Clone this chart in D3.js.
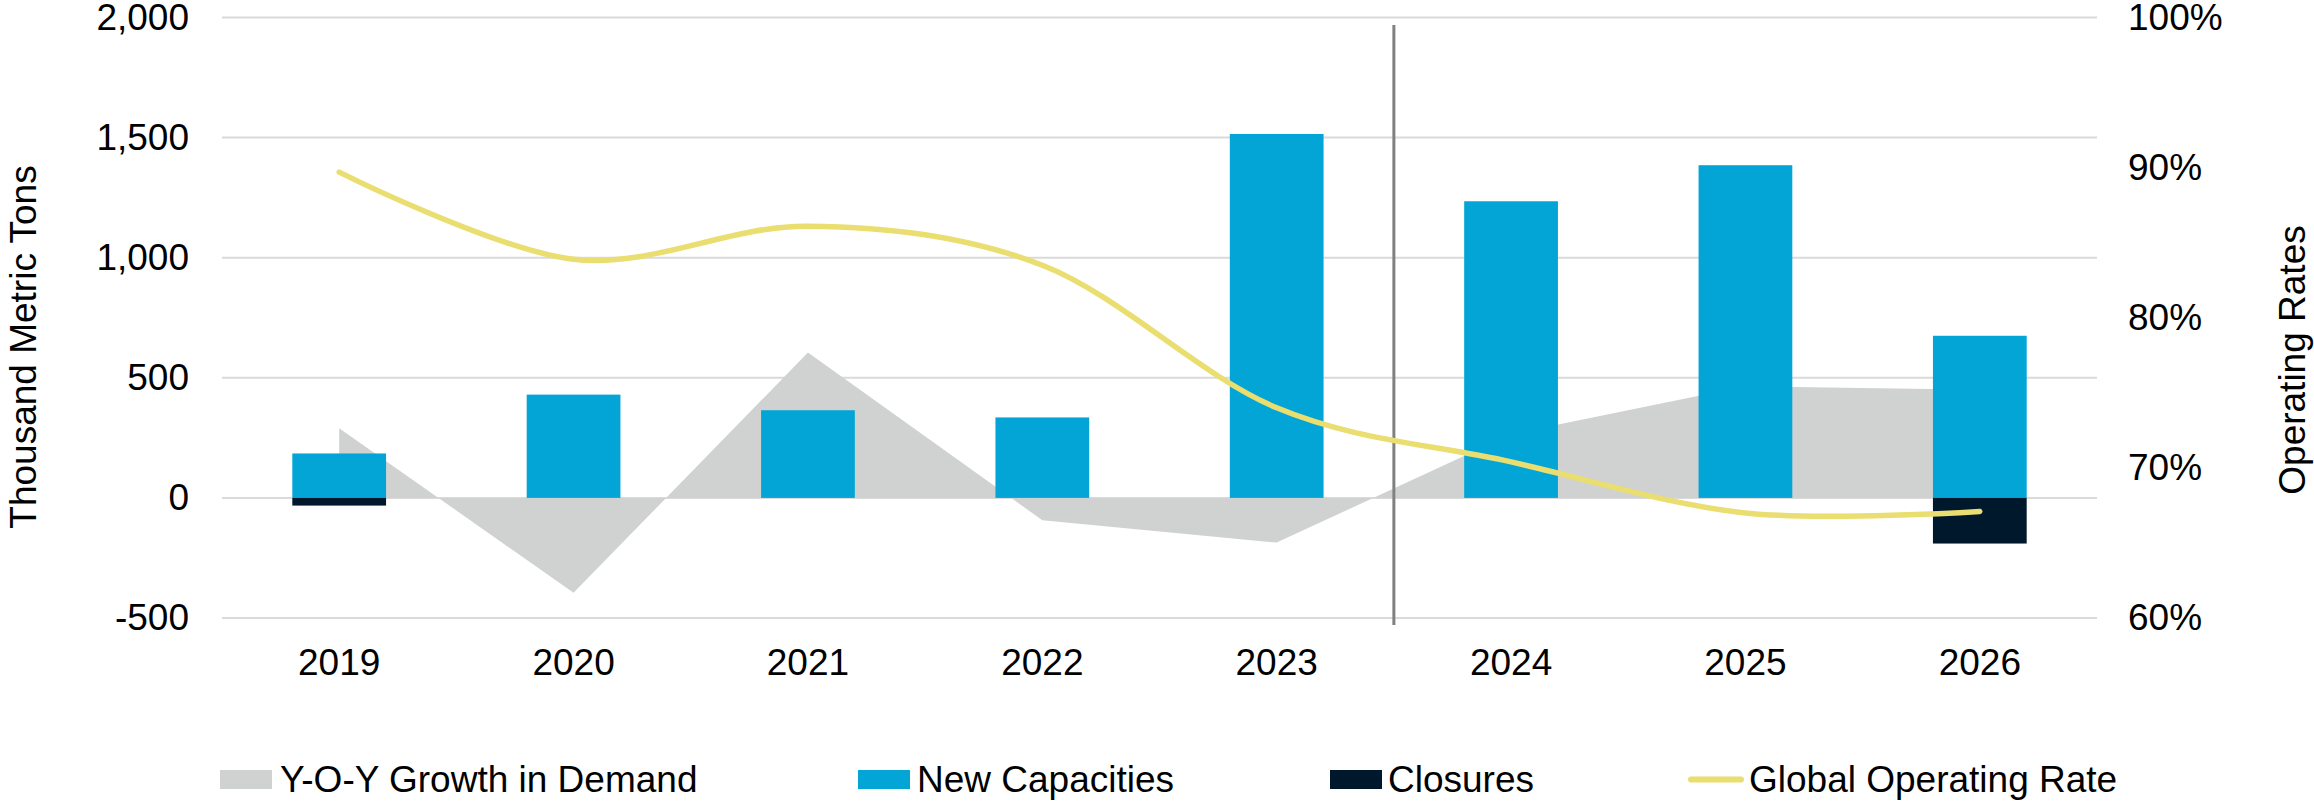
<!DOCTYPE html>
<html>
<head>
<meta charset="utf-8">
<script src="https://cdn.jsdelivr.net/npm/d3@7"></script>
<style>
  body { margin: 0; background: #ffffff; }
  text { font-family: "Liberation Sans", Arial, sans-serif; fill: #000000; }
</style>
</head>
<body>
<svg id="chart" width="2314" height="801"></svg>
<script>
// ---- data ----
const years = ["2019", "2020", "2021", "2022", "2023", "2024", "2025", "2026"];
const demandGrowth = [290, -395, 605, -93, -186, 265, 465, 450];      // thousand metric tons
const newCapacities = [185, 430, 365, 335, 1515, 1235, 1385, 675];    // thousand metric tons
const closures = [-32, 0, 0, 0, 0, 0, 0, -190];                       // thousand metric tons
const operatingRate = [89.7, 83.9, 86.1, 83.5, 74.0, 70.4, 67.0, 67.1]; // percent
const leftTicks = [-500, 0, 500, 1000, 1500, 2000];
const rightTicks = [60, 70, 80, 90, 100];
const legendLabels = ["Y-O-Y Growth in Demand", "New Capacities", "Closures", "Global Operating Rate"];
const forecastStart = "2024";

// ---- styling ----
const colors = {
  demand: "#D0D2D1",
  capacity: "#02A5D5",
  closure: "#00182C",
  rate: "#E9DE6F",
  grid: "#DADADA",
  divider: "#808080"
};
const fontSize = 37;

const svg = d3.select("#chart");
const plot = { left: 222, right: 2097, top: 17.5, bottom: 618 };

const x = d3.scaleBand().domain(years).range([plot.left, plot.right]).padding(0);
const cx = d => x(d) + x.bandwidth() / 2;
const barW = x.bandwidth() * 0.4;

const y = d3.scaleLinear().domain([-500, 2000]).range([plot.bottom, plot.top]);
const yR = d3.scaleLinear().domain([60, 100]).range([plot.bottom, plot.top]);

// thousands separator with a plain hyphen for negatives
const numFmt = d3.formatLocale({ decimal: ".", thousands: ",", grouping: [3], currency: ["", ""], minus: "-" }).format(",");

// gridlines
svg.append("g").selectAll("line").data(leftTicks).join("line")
  .attr("x1", plot.left).attr("x2", plot.right)
  .attr("y1", d => y(d)).attr("y2", d => y(d))
  .attr("stroke", colors.grid).attr("stroke-width", 2);

// demand growth area
const demandData = years.map((yr, i) => ({ yr, v: demandGrowth[i] }));
svg.append("path")
  .datum(demandData)
  .attr("fill", colors.demand)
  .attr("d", d3.area().x(d => cx(d.yr)).y0(y(0)).y1(d => y(d.v)));

// new capacity bars
svg.append("g").selectAll("rect").data(years.map((yr, i) => ({ yr, v: newCapacities[i] }))).join("rect")
  .attr("x", d => cx(d.yr) - barW / 2)
  .attr("width", barW)
  .attr("y", d => y(Math.max(0, d.v)))
  .attr("height", d => Math.abs(y(d.v) - y(0)))
  .attr("fill", colors.capacity);

// closure bars
svg.append("g").selectAll("rect").data(years.map((yr, i) => ({ yr, v: closures[i] })).filter(d => d.v !== 0)).join("rect")
  .attr("x", d => cx(d.yr) - barW / 2)
  .attr("width", barW)
  .attr("y", d => y(Math.max(0, d.v)))
  .attr("height", d => Math.abs(y(d.v) - y(0)))
  .attr("fill", colors.closure);

// actual / forecast divider
svg.append("line")
  .attr("x1", x(forecastStart)).attr("x2", x(forecastStart))
  .attr("y1", 25).attr("y2", 625)
  .attr("stroke", colors.divider).attr("stroke-width", 3);

// operating rate line
svg.append("path")
  .datum(years.map((yr, i) => ({ yr, v: operatingRate[i] })))
  .attr("fill", "none")
  .attr("stroke", colors.rate)
  .attr("stroke-width", 5.5)
  .attr("stroke-linecap", "round")
  .attr("stroke-linejoin", "round")
  .attr("d", d3.line().x(d => cx(d.yr)).y(d => yR(d.v)).curve(d3.curveCardinal.tension(0)));

// axes
const styleAxis = g => {
  g.select(".domain").remove();
  g.selectAll(".tick line").remove();
  g.selectAll("text").attr("font-size", fontSize).attr("fill", "#000")
    .style("font-family", "'Liberation Sans', Arial, sans-serif");
};

svg.append("g").attr("transform", `translate(${plot.left},0)`)
  .call(d3.axisLeft(y).tickValues(leftTicks).tickFormat(numFmt).tickSize(0).tickPadding(33))
  .call(styleAxis);

svg.append("g").attr("transform", `translate(${plot.right},0)`)
  .call(d3.axisRight(yR).tickValues(rightTicks).tickFormat(d => d + "%").tickSize(0).tickPadding(31))
  .call(styleAxis);

svg.append("g").attr("transform", `translate(0,${plot.bottom})`)
  .call(d3.axisBottom(x).tickSize(0).tickPadding(31))
  .call(styleAxis);

// axis titles
svg.append("text")
  .attr("transform", "translate(36,347) rotate(-90)")
  .attr("text-anchor", "middle")
  .attr("font-size", fontSize)
  .text("Thousand Metric Tons");

svg.append("text")
  .attr("transform", "translate(2305,360) rotate(-90)")
  .attr("text-anchor", "middle")
  .attr("font-size", fontSize)
  .text("Operating Rates");

// legend
const legendY = 779.5;
const legendItems = [
  { label: legendLabels[0], kind: "rect", color: colors.demand, sx: 220, tx: 280 },
  { label: legendLabels[1], kind: "rect", color: colors.capacity, sx: 858, tx: 917 },
  { label: legendLabels[2], kind: "rect", color: colors.closure, sx: 1330, tx: 1388 },
  { label: legendLabels[3], kind: "line", color: colors.rate, sx: 1688, tx: 1749 }
];
const lg = svg.append("g");
legendItems.forEach(it => {
  if (it.kind === "rect") {
    lg.append("rect").attr("x", it.sx).attr("y", legendY - 9.5)
      .attr("width", 52).attr("height", 19).attr("fill", it.color);
  } else {
    lg.append("line").attr("x1", it.sx + 3).attr("x2", it.sx + 53)
      .attr("y1", legendY).attr("y2", legendY)
      .attr("stroke", it.color).attr("stroke-width", 6).attr("stroke-linecap", "round");
  }
  lg.append("text").attr("x", it.tx).attr("y", 792)
    .attr("font-size", fontSize).text(it.label);
});
</script>
</body>
</html>
